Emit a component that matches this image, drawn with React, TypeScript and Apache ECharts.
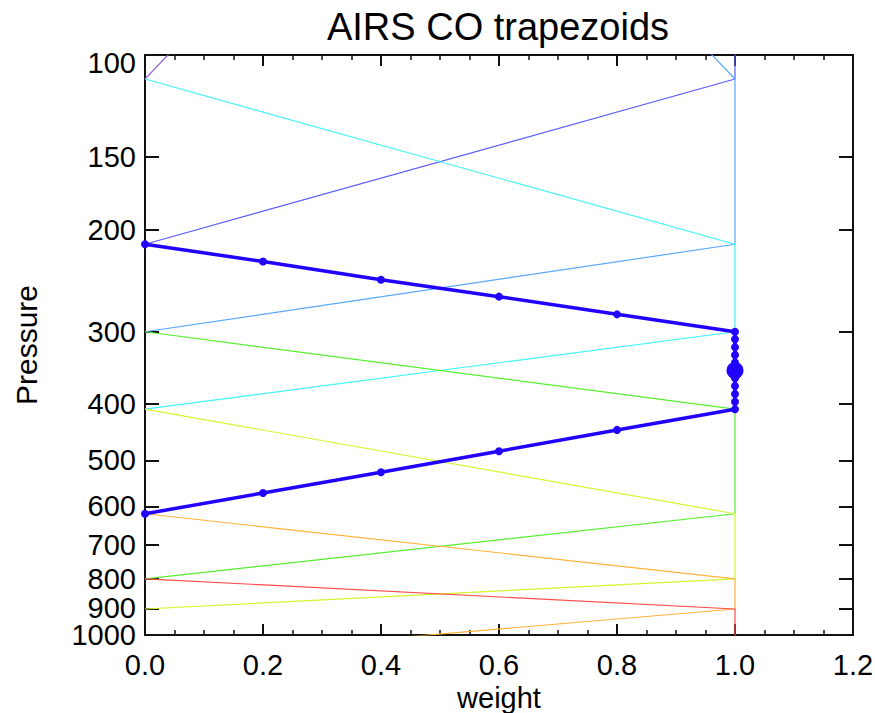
import React, { useEffect, useRef } from "react";
import * as echarts from "echarts";

// Y tick labels (pressure, hPa) and x range
const pressureTicks = [100, 150, 200, 300, 400, 500, 600, 700, 800, 900, 1000];
const pressureBottomLabel = [1000];
const weightMin = 0;
const weightMax = 1.2;
const weightStep = 0.2;

// Trapezoid functions: [weight, pressure] vertices
const violet = [[1, 9.5], [0, 110]];
const slateBlue = [[1, 9.5], [1, 110], [0, 212]];
const lightBlue = [[0, 9.5], [1, 110], [1, 212], [0, 300]];
const cyan = [[0, 110], [1, 212], [1, 300], [0, 408]];
const green = [[0, 300], [1, 408], [1, 618], [0, 800]];
const yellowGreen = [[0, 408], [1, 618], [1, 800], [0, 902]];
const orange = [[0, 618], [1, 800], [1, 902], [0, 1100]];
const red = [[0, 800], [1, 902], [1, 1100]];

// Highlighted trapezoid with its sample points
const highlight = [
  [0, 212], [0.2, 227], [0.4, 244], [0.6, 261], [0.8, 280], [1, 300],
  [1, 309], [1, 319], [1, 329], [1, 339], [1, 350], [1, 361], [1, 372],
  [1, 384], [1, 396], [1, 408],
  [0.8, 443], [0.6, 482], [0.4, 524], [0.2, 569], [0, 618],
];
const centerPoint = [[1, 350]];

const FONT = "'Liberation Sans', Arial, Helvetica, sans-serif";

export default function App() {
  const ref = useRef<HTMLDivElement>(null);
  useEffect(() => {
    document.body.style.margin = "0";
    if (!ref.current) return;
    const chart = echarts.init(ref.current, undefined, { renderer: "svg" });

    const thin = (name: string, data: number[][], color: string) => ({
      name,
      type: "line",
      data,
      symbol: "none",
      lineStyle: { width: 1.2, color },
      itemStyle: { color },
      z: 2,
    });

    const tickLine = { color: "#111", width: 2 };
    const axisLine = { show: true, onZero: false, lineStyle: { color: "#111", width: 2 } };

    const xCommon = {
      type: "value",
      min: weightMin,
      max: weightMax,
      interval: weightStep,
      axisLine,
      splitLine: { show: false },
      axisTick: { show: true, inside: true, length: 11, lineStyle: tickLine },
      minorTick: { show: true, splitNumber: 4, length: 5, lineStyle: { color: "#111", width: 1.5 } },
    };

    const yCommon = {
      type: "log",
      logBase: 10,
      min: 100,
      max: 1000,
      inverse: true,
      axisLine,
      splitLine: { show: false },
      minorTick: { show: false },
      axisTick: { show: true, inside: true, length: 14, lineStyle: tickLine, customValues: pressureTicks },
    };

    const labelStyle = {
      show: true,
      margin: 9,
      fontSize: 29,
      fontFamily: FONT,
      color: "#000",
    };

    chart.setOption({
      animation: false,
      backgroundColor: "#fff",
      graphic: [
        {
          type: "text",
          x: 498,
          y: 8,
          style: {
            text: "AIRS CO trapezoids",
            fontSize: 38,
            fontFamily: FONT,
            fill: "#000",
            align: "center",
            verticalAlign: "top",
          },
        },
      ],
      grid: { left: 145, right: 22, top: 55, bottom: 78, outerBoundsMode: "none", containLabel: false },
      xAxis: [
        {
          ...xCommon,
          position: "bottom",
          name: "weight",
          nameLocation: "middle",
          nameGap: 37,
          nameTextStyle: { fontSize: 29, lineHeight: 29, fontFamily: FONT, color: "#000" },
          axisLabel: {
            ...labelStyle,
            margin: 15,
            showMinLabel: true,
            showMaxLabel: true,
            formatter: (v: number) => v.toFixed(1),
          },
        },
        { ...xCommon, position: "top", axisLabel: { show: false } },
      ],
      yAxis: [
        {
          ...yCommon,
          position: "left",
          name: "Pressure",
          nameLocation: "middle",
          nameGap: 104,
          nameTextStyle: { fontSize: 30, fontFamily: FONT, color: "#000" },
          axisLabel: {
            ...labelStyle,
            showMinLabel: true,
            showMaxLabel: false,
            customValues: pressureTicks,
            formatter: (v: number) => (Math.round(v) === 100 ? "{t|100}" : String(Math.round(v))),
            rich: {
              t: { fontSize: 29, fontFamily: FONT, color: "#000", padding: [16, 0, 0, 0] },
            },
          },
        },
        { ...yCommon, position: "right", axisLabel: { show: false } },
        {
          ...yCommon,
          position: "left",
          offset: 0,
          axisLine: { show: false },
          axisTick: { show: false },
          axisLabel: {
            ...labelStyle,
            showMinLabel: true,
            showMaxLabel: true,
            customValues: pressureBottomLabel,
            formatter: (v: number) => String(Math.round(v)),
          },
        },
      ],
      series: [
        thin("violet", violet, "#9a5cd6"),
        thin("slateBlue", slateBlue, "#5a5aff"),
        thin("lightBlue", lightBlue, "#5aa8ff"),
        thin("cyan", cyan, "#3ff5f5"),
        thin("green", green, "#55f030"),
        thin("yellowGreen", yellowGreen, "#d6f530"),
        thin("orange", orange, "#ffb23a"),
        thin("red", red, "#ff4a4a"),
        {
          name: "highlight",
          type: "line",
          data: highlight,
          symbol: "circle",
          symbolSize: 8,
          lineStyle: { width: 3.5, color: "#2200ff" },
          itemStyle: { color: "#2200ff" },
          z: 5,
        },
        {
          name: "center",
          type: "scatter",
          data: centerPoint,
          symbol: "circle",
          symbolSize: 17,
          itemStyle: { color: "#2200ff", opacity: 1 },
          z: 6,
        },
      ],
    });
    return () => chart.dispose();
  }, []);
  return <div ref={ref} style={{ width: 875, height: 713 }} />;
}
